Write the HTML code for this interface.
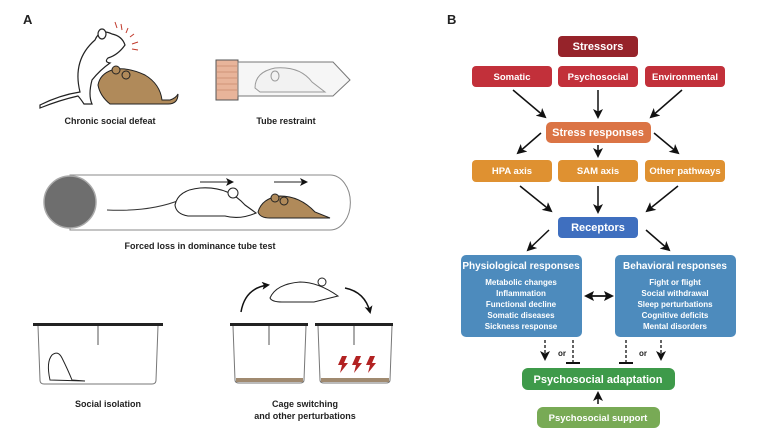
<!DOCTYPE html>
<html><head><meta charset="utf-8"><style>
html,body{margin:0;padding:0;background:#fff;}
svg{display:block;font-family:"Liberation Sans",Arial,sans-serif;font-weight:bold;}
</style></head><body>
<svg width="759" height="438" viewBox="0 0 759 438" xmlns="http://www.w3.org/2000/svg">
<defs>
<marker id="ah" markerWidth="10" markerHeight="10" refX="8" refY="5" orient="auto" markerUnits="userSpaceOnUse"><path d="M0,0 L10,5 L0,10 L2.5,5 z" fill="#111"/></marker>
<marker id="ahs" markerWidth="8" markerHeight="8" refX="6" refY="4" orient="auto" markerUnits="userSpaceOnUse"><path d="M0,0 L8,4 L0,8 L2,4 z" fill="#111"/></marker>
<marker id="ah2" markerWidth="10" markerHeight="10" refX="8" refY="5" orient="auto-start-reverse" markerUnits="userSpaceOnUse"><path d="M0,0 L10,5 L0,10 L2,5 z" fill="#111"/></marker>
</defs>
<text x="23" y="24" font-size="13" fill="#222">A</text>
<text x="447" y="24" font-size="13" fill="#222">B</text>

<!-- Panel A: chronic social defeat -->
<g stroke="#222" stroke-width="1.2" fill="#fff">
<path d="M40,105 Q60,95 80,92 Q72,60 95,40 Q100,28 112,34 Q122,36 125,45 Q118,55 108,58 Q104,62 110,63 Q100,70 92,80 Q88,95 92,104 L84,104 Q80,98 78,96 Q60,100 40,108 Z"/>
<ellipse cx="102" cy="34" rx="4" ry="5"/>
</g>
<g stroke="#c0392b" stroke-width="1"><line x1="115" y1="22" x2="117" y2="28"/><line x1="121" y1="24" x2="122" y2="30"/><line x1="128" y1="28" x2="126" y2="33"/><line x1="134" y1="34" x2="130" y2="37"/><line x1="138" y1="42" x2="132" y2="44"/><line x1="138" y1="50" x2="132" y2="49"/></g>
<g stroke="#222" stroke-width="1" fill="#b08a5a">
<path d="M98,85 Q100,74 112,70 Q125,66 145,75 Q160,84 162,100 L170,100 Q176,98 178,94 Q178,104 168,104 L110,104 Q100,96 98,85 Z"/>
<ellipse cx="116" cy="70" rx="4" ry="4"/><ellipse cx="126" cy="75" rx="4" ry="4"/>
</g>
<text x="110" y="124" font-size="9" text-anchor="middle" fill="#222">Chronic social defeat</text>

<!-- tube restraint -->
<rect x="216" y="60" width="22" height="40" fill="#e8b49a" stroke="#555" stroke-width="1"/>
<g stroke="#c98a6c" stroke-width="0.8"><line x1="217" y1="66" x2="237" y2="66"/><line x1="217" y1="72" x2="237" y2="72"/><line x1="217" y1="78" x2="237" y2="78"/><line x1="217" y1="84" x2="237" y2="84"/><line x1="217" y1="90" x2="237" y2="90"/></g>
<path d="M238,62 L333,62 L350,80 L333,96 L238,96 Z" fill="#f6f6f6" stroke="#777" stroke-width="1"/>
<path d="M255,88 Q255,72 275,68 Q300,66 312,82 L325,92 L260,92 Z" fill="#f2f2f2" stroke="#999" stroke-width="1"/>
<ellipse cx="275" cy="76" rx="4" ry="5" fill="none" stroke="#999"/>
<text x="286" y="124" font-size="9" text-anchor="middle" fill="#222">Tube restraint</text>

<!-- forced loss tube -->
<path d="M70,175 L330,175 A20,27 0 0 1 330,230 L70,230 Z" fill="#fff" stroke="#888" stroke-width="1"/>
<circle cx="70" cy="202" r="26" fill="#6e6e6e" stroke="#aaa" stroke-width="1.5"/>
<path d="M107,210 Q150,212 180,200" fill="none" stroke="#333" stroke-width="1"/>
<path d="M175,205 Q178,190 200,188 Q228,186 245,205 Q252,210 256,213 Q240,220 225,216 L188,216 Q176,214 175,205 Z" fill="#fff" stroke="#222" stroke-width="1.1"/>
<ellipse cx="233" cy="193" rx="5" ry="5" fill="#fff" stroke="#222"/>
<path d="M258,212 Q262,198 280,196 Q300,196 315,212 L330,218 L270,218 Q260,218 258,212 Z" fill="#b08a5a" stroke="#222" stroke-width="1"/>
<ellipse cx="275" cy="198" rx="4" ry="4" fill="#b08a5a" stroke="#222"/><ellipse cx="284" cy="201" rx="4" ry="4" fill="#b08a5a" stroke="#222"/>
<line x1="200" y1="182" x2="232" y2="182" stroke="#222" stroke-width="1" marker-end="url(#ahs)"/>
<line x1="274" y1="182" x2="306" y2="182" stroke="#222" stroke-width="1" marker-end="url(#ahs)"/>
<text x="200" y="249" font-size="9" text-anchor="middle" fill="#222">Forced loss in dominance tube test</text>

<!-- social isolation cage -->
<path d="M38,326 L40,380 Q40,384 44,384 L152,384 Q156,384 156,380 L158,326" fill="#fff" stroke="#777" stroke-width="1"/>
<rect x="33" y="323" width="130" height="3" fill="#222"/>
<line x1="98" y1="326" x2="98" y2="345" stroke="#555"/>
<path d="M50,380 Q46,362 52,355 Q58,350 62,358 Q68,370 72,380 L85,381 Z" fill="#fff" stroke="#222" stroke-width="1"/>
<text x="108" y="407" font-size="9" text-anchor="middle" fill="#222">Social isolation</text>

<!-- cage switching -->
<path d="M233,326 L235,380 Q235,383 239,383 L300,383 Q304,383 304,380 L306,326" fill="#fff" stroke="#777" stroke-width="1"/>
<rect x="230" y="323" width="78" height="3" fill="#222"/>
<rect x="236" y="378" width="67" height="4" fill="#a08a70"/>
<path d="M318,326 L320,380 Q320,383 324,383 L386,383 Q390,383 390,380 L392,326" fill="#fff" stroke="#777" stroke-width="1"/>
<rect x="315" y="323" width="78" height="3" fill="#222"/>
<rect x="321" y="378" width="68" height="4" fill="#a08a70"/>
<line x1="269" y1="326" x2="269" y2="345" stroke="#555"/><line x1="354" y1="326" x2="354" y2="345" stroke="#555"/>
<g fill="#b22222"><path d="M342,356 L347,356 L344,363 L348,363 L340,373 L342,365 L338,365 Z"/><path d="M356,356 L361,356 L358,363 L362,363 L354,373 L356,365 L352,365 Z"/><path d="M370,356 L375,356 L372,363 L376,363 L368,373 L370,365 L366,365 Z"/></g>
<path d="M241,312 Q245,288 268,285" fill="none" stroke="#111" stroke-width="1.5" marker-end="url(#ahs)"/>
<path d="M345,288 Q365,292 370,312" fill="none" stroke="#111" stroke-width="1.5" marker-end="url(#ahs)"/>
<path d="M270,298 Q276,284 300,282 Q318,282 338,296 L314,302 L282,302 Q272,302 270,298 Z" fill="#fff" stroke="#222" stroke-width="1"/>
<ellipse cx="322" cy="282" rx="4" ry="4" fill="#fff" stroke="#222"/>
<text x="305" y="407" font-size="9" text-anchor="middle" fill="#222">Cage switching</text>
<text x="305" y="419" font-size="9" text-anchor="middle" fill="#222">and other perturbations</text>

<!-- Panel B -->
<g font-size="9.5" text-anchor="middle" fill="#fff">
<rect x="558" y="36" width="80" height="21" rx="4" fill="#96232a"/><text x="598" y="50" font-size="11">Stressors</text>
<rect x="472" y="66" width="80" height="21" rx="4" fill="#c2303a"/><text x="512" y="80">Somatic</text>
<rect x="558" y="66" width="80" height="21" rx="4" fill="#c2303a"/><text x="598" y="80">Psychosocial</text>
<rect x="645" y="66" width="80" height="21" rx="4" fill="#c2303a"/><text x="685" y="80">Environmental</text>
<rect x="546" y="122" width="105" height="21" rx="5" fill="#db7445"/><text x="598" y="136" font-size="11">Stress responses</text>
<rect x="472" y="160" width="80" height="22" rx="4" fill="#df9131"/><text x="512" y="174">HPA axis</text>
<rect x="558" y="160" width="80" height="22" rx="4" fill="#df9131"/><text x="598" y="174">SAM axis</text>
<rect x="645" y="160" width="80" height="22" rx="4" fill="#df9131"/><text x="685" y="174">Other pathways</text>
<rect x="558" y="217" width="80" height="21" rx="4" fill="#3f6fbf"/><text x="598" y="231" font-size="11">Receptors</text>
<rect x="461" y="255" width="121" height="82" rx="5" fill="#4d8bbd"/>
<text x="521" y="269" font-size="10">Physiological responses</text>
<g font-size="8"><text x="521" y="285">Metabolic changes</text><text x="521" y="296">Inflammation</text><text x="521" y="307">Functional decline</text><text x="521" y="318">Somatic diseases</text><text x="521" y="329">Sickness response</text></g>
<rect x="615" y="255" width="121" height="82" rx="5" fill="#4d8bbd"/>
<text x="675" y="269" font-size="10">Behavioral responses</text>
<g font-size="8"><text x="675" y="285">Fight or flight</text><text x="675" y="296">Social withdrawal</text><text x="675" y="307">Sleep perturbations</text><text x="675" y="318">Cognitive deficits</text><text x="675" y="329">Mental disorders</text></g>
<rect x="522" y="368" width="153" height="22" rx="6" fill="#3e9a4a"/><text x="598" y="383" font-size="11">Psychosocial adaptation</text>
<rect x="537" y="407" width="123" height="21" rx="6" fill="#78aa55"/><text x="598" y="421">Psychosocial support</text>
</g>
<g stroke="#111" stroke-width="1.5" marker-end="url(#ah)">
<line x1="513" y1="90" x2="545" y2="117"/><line x1="598" y1="90" x2="598" y2="117"/><line x1="682" y1="90" x2="651" y2="117"/>
<line x1="541" y1="133" x2="518" y2="153"/><line x1="598" y1="145" x2="598" y2="156"/><line x1="654" y1="133" x2="678" y2="153"/>
<line x1="520" y1="186" x2="551" y2="211"/><line x1="598" y1="186" x2="598" y2="212"/><line x1="678" y1="186" x2="647" y2="211"/>
<line x1="549" y1="230" x2="528" y2="250"/><line x1="646" y1="230" x2="669" y2="250"/>
<line x1="598" y1="404" x2="598" y2="393"/>
</g>
<line x1="586" y1="296" x2="612" y2="296" stroke="#111" stroke-width="1.8" marker-start="url(#ah2)" marker-end="url(#ah2)"/>
<g stroke="#111" stroke-width="1.3" stroke-dasharray="3,2">
<line x1="545" y1="340" x2="545" y2="359" marker-end="url(#ah)"/>
<line x1="573" y1="340" x2="573" y2="363"/>
<line x1="626" y1="340" x2="626" y2="363"/>
<line x1="661" y1="340" x2="661" y2="359" marker-end="url(#ah)"/>
</g>
<g stroke="#111" stroke-width="2"><line x1="566" y1="363" x2="580" y2="363"/><line x1="619" y1="363" x2="633" y2="363"/></g>
<text x="562" y="356" font-size="8" fill="#222" text-anchor="middle">or</text>
<text x="643" y="356" font-size="8" fill="#222" text-anchor="middle">or</text>
</svg>
</body></html>
